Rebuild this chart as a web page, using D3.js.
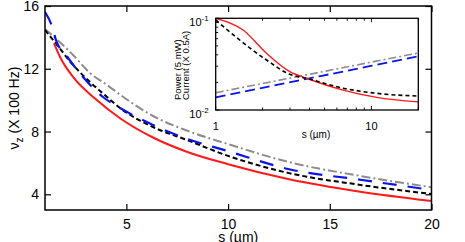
<!DOCTYPE html>
<html><head><meta charset="utf-8">
<script src="https://cdn.jsdelivr.net/npm/d3@7"></script>
<style>body{margin:0;background:#fff}svg{display:block}text{font-family:"Liberation Sans",Arial,sans-serif}</style>
</head><body><svg id="c" width="465" height="242"></svg>
<script>
// ---- main plot data ----
const redS   = [1.44, 1.74, 2.38, 3.46, 4.69, 6.31, 8, 10, 13, 16.5, 20];
const redV   = [13.64, 12.75, 11.48, 10.1, 8.85, 7.62, 6.7, 5.92, 4.96, 4.17, 3.58];
const blackS = [1, 1.59, 2.38, 3.21, 4.05, 4.69, 6.31, 8, 10, 13, 16.5, 20];
const blackV = [14.47, 13.52, 12.24, 11.16, 10.2, 9.5, 8.29, 7.45, 6.45, 5.35, 4.6, 4.02];
const blueS  = [1, 1.39, 1.54, 2.03, 2.87, 3.85, 4.69, 6.31, 8, 10, 13, 16.5, 20];
const blueV  = [15.62, 14.54, 13.83, 12.88, 11.48, 10.2, 9.5, 8.42, 7.53, 6.75, 5.6, 4.93, 4.28];
const grayS  = [1, 2.38, 3.21, 4.05, 4.69, 6.31, 8, 10, 13, 16.5, 20];
const grayV  = [14.54, 12.88, 11.73, 10.97, 10.35, 8.99, 8.05, 7.2, 6.05, 5.17, 4.45];
const xTicks = [5, 10, 15, 20];
const yTicks = [4, 8, 12, 16];
// ---- inset data ----
const iRedS   = [1, 1.5, 2.12, 2.99, 3.83, 6.58, 10.8, 20];
const iRedV   = [0.1, 0.0745, 0.0415, 0.0262, 0.0222, 0.0165, 0.01375, 0.01227];
const iBlackS = [1, 1.3, 2.12, 2.99, 3.8, 6.58, 10.8, 20];
const iBlackV = [0.096, 0.0658, 0.0351, 0.0245, 0.0222, 0.0173, 0.0152, 0.0142];
const iBlueS  = [1, 2, 4, 8, 20];
const iBlueV  = [0.01374, 0.01746, 0.02215, 0.0281, 0.0385];
const iGrayS  = [1, 2, 4, 8, 20];
const iGrayV  = [0.01545, 0.01945, 0.02453, 0.0309, 0.0419];

const svg = d3.select('#c');
const zip = (a, b) => a.map((d, i) => [d, b[i]]);

// main
const L = 45, R = 431.5, T = 6, B = 210;
const x = d3.scaleLinear().domain([1, 20]).range([L, R]);
const y = d3.scaleLinear().domain([3, 16]).range([B, T]);
svg.append('clipPath').attr('id', 'cm').append('rect').attr('x', L).attr('y', T).attr('width', R - L).attr('height', B - T);
const gm = svg.append('g').attr('clip-path', 'url(#cm)');
const lineM = d3.line().x(d => x(d[0])).y(d => y(d[1])).curve(d3.curveMonotoneX);
const mainSeries = [
  {d: zip(grayS, grayV), c: '#8c8c8c', w: 2, da: '9,3,2,3'},
  {d: zip(blackS, blackV), c: '#000', w: 2, da: '5,3'},
  {d: zip(blueS, blueV), c: '#0a14e6', w: 2.2, da: '14,11'},
  {d: zip(redS, redV), c: '#ff1a1a', w: 2, da: null}
];
mainSeries.forEach(s => gm.append('path').attr('d', lineM(s.d)).attr('fill', 'none')
  .attr('stroke', s.c).attr('stroke-width', s.w).attr('stroke-dasharray', s.da));

const tl = 6;
const axB = d3.axisBottom(x).tickValues(xTicks).tickSize(-tl).tickPadding(9);
const axT = d3.axisTop(x).tickValues(xTicks).tickSize(-tl).tickFormat('');
const axL = d3.axisLeft(y).tickValues(yTicks).tickSize(-tl).tickPadding(6);
const axR = d3.axisRight(y).tickValues(yTicks).tickSize(-tl).tickFormat('');
[[axB, `translate(0,${B})`], [axT, `translate(0,${T})`], [axL, `translate(${L},0)`], [axR, `translate(${R},0)`]].forEach(([a, t]) => {
  const g = svg.append('g').attr('transform', t).call(a);
  g.select('.domain').remove();
  g.selectAll('line').attr('stroke', '#000').attr('stroke-width', 1.2);
  g.selectAll('text').attr('font-size', 14).attr('fill', '#000').style('font-family', '"Liberation Sans",Arial,sans-serif');
});
svg.append('rect').attr('x', L).attr('y', T).attr('width', R - L).attr('height', B - T)
  .attr('fill', 'none').attr('stroke', '#000').attr('stroke-width', 1.5);

svg.append('text').attr('x', (L + R) / 2).attr('y', 242).attr('text-anchor', 'middle').attr('font-size', 14).text('s (µm)');
const yl = svg.append('text').attr('transform', `translate(19,${(T + B) / 2}) rotate(-90)`).attr('text-anchor', 'middle').attr('font-size', 14);
yl.append('tspan').text('ν');
yl.append('tspan').attr('font-size', 10).attr('dy', 4).text('z');
yl.append('tspan').attr('dy', -4).text(' (X 100 Hz)');

// inset
const iL = 215.7, iR = 418.3, iT = 18.3, iB = 110;
const ix = d3.scaleLog().domain([1, 20]).range([iL, iR]);
const iy = d3.scaleLog().domain([0.01, 0.1]).range([iB, iT]);
svg.append('rect').attr('x', iL).attr('y', iT).attr('width', iR - iL).attr('height', iB - iT).attr('fill', '#fff');
svg.append('clipPath').attr('id', 'ci').append('rect').attr('x', iL).attr('y', iT).attr('width', iR - iL).attr('height', iB - iT);
const gi = svg.append('g').attr('clip-path', 'url(#ci)');
const lineI = d3.line().x(d => ix(d[0])).y(d => iy(d[1])).curve(d3.curveMonotoneX);
const insetSeries = [
  {d: zip(iGrayS, iGrayV), c: '#8c8c8c', w: 1.6, da: '8,3,2,3'},
  {d: zip(iBlueS, iBlueV), c: '#0a14e6', w: 1.8, da: '10,5'},
  {d: zip(iRedS, iRedV), c: '#ff1a1a', w: 1.4, da: null},
  {d: zip(iBlackS, iBlackV), c: '#000', w: 1.6, da: '4,3'}
];
insetSeries.forEach(s => gi.append('path').attr('d', lineI(s.d)).attr('fill', 'none')
  .attr('stroke', s.c).attr('stroke-width', s.w).attr('stroke-dasharray', s.da));

const ixTicks = [1, 2, 3, 4, 5, 6, 7, 8, 9, 10, 20];
const iyTicks = [0.01, 0.02, 0.03, 0.04, 0.05, 0.06, 0.07, 0.08, 0.09, 0.1];
const major = v => Math.abs(Math.log10(v) - Math.round(Math.log10(v))) < 1e-6;
const tg = svg.append('g').attr('stroke', '#000').attr('stroke-width', 0.9);
ixTicks.forEach(v => {
  const len = major(v) ? 4 : 2.5;
  tg.append('line').attr('x1', ix(v)).attr('x2', ix(v)).attr('y1', iB).attr('y2', iB - len);
  tg.append('line').attr('x1', ix(v)).attr('x2', ix(v)).attr('y1', iT).attr('y2', iT + len);
});
iyTicks.forEach(v => {
  const len = major(v) ? 4 : 2.5;
  tg.append('line').attr('x1', iL).attr('x2', iL + len).attr('y1', iy(v)).attr('y2', iy(v));
});
svg.append('rect').attr('x', iL).attr('y', iT).attr('width', iR - iL).attr('height', iB - iT)
  .attr('fill', 'none').attr('stroke', '#000').attr('stroke-width', 1.3);

const ixLabels = [1, 10];
ixLabels.forEach(v => svg.append('text').attr('x', ix(v)).attr('y', iB + 20).attr('text-anchor', 'middle').attr('font-size', 11).text(v));
const iyLabels = [[0.1, '-1'], [0.01, '-2']];
iyLabels.forEach(([v, e]) => {
  const t = svg.append('text').attr('x', iL - 7).attr('y', iy(v) + 8).attr('text-anchor', 'end').attr('font-size', 11);
  t.append('tspan').text('10');
  t.append('tspan').attr('font-size', 8).attr('dy', -5).text(e);
});
svg.append('text').attr('x', 316).attr('y', 138).attr('text-anchor', 'middle').attr('font-size', 10).text('s (µm)');
svg.append('text').attr('transform', `translate(181,100) rotate(-90)`).attr('font-size', 9.5).text('Power (5 mW)');
svg.append('text').attr('transform', `translate(188.5,100) rotate(-90)`).attr('font-size', 9.5).text('Current (X 0.5A)');
</script></body></html>
